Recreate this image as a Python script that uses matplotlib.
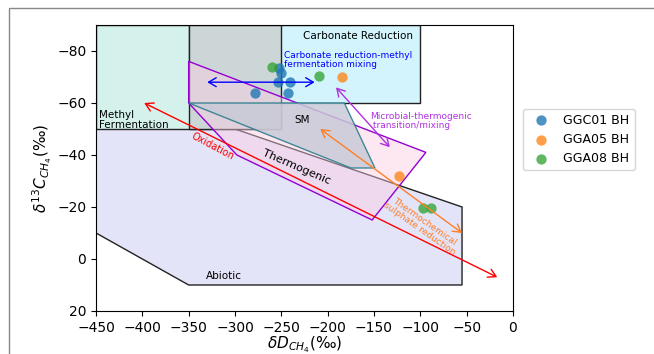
import matplotlib.pyplot as plt
import numpy as np
from matplotlib.patches import Polygon, Rectangle

# isotope data (dD vs d13C of methane)
ggc01_dD = [-278, -254, -241, -243, -252, -250]
ggc01_d13C = [-64, -68, -68, -64, -73.5, -71.5]
gga05_dD = [-184, -123]
gga05_d13C = [-70, -32]
gga08_dD = [-260, -209, -97, -89]
gga08_d13C = [-74, -70.5, -19.5, -19.5]

# genetic fields
abiotic = [(-450, -50), (-300, -50), (-55, -20), (-55, 10), (-350, 10), (-450, -10)]
methyl = [(-450, -90), (-250, -90), (-250, -50), (-450, -50)]
carbonate = [(-350, -90), (-100, -90), (-100, -60), (-350, -60)]
overlap = [(-350, -90), (-250, -90), (-250, -50), (-350, -50)]
thermo = [(-350, -76), (-350, -60), (-298, -40), (-152, -15), (-94, -41)]
sm = [(-350, -60), (-182, -60), (-149, -35), (-175, -35)]

fig = plt.figure(figsize=(6.54, 3.54), dpi=100)
ax = fig.add_axes([0.1468, 0.1215, 0.6376, 0.8079])

ax.add_patch(Polygon(abiotic, closed=True, fc='#e4e4f8', ec='#222222', lw=1, zorder=1))
ax.add_patch(Polygon(methyl, closed=True, fc='#d5f1ec', ec='#222222', lw=1, zorder=1.1))
ax.add_patch(Polygon(carbonate, closed=True, fc='#d3f4fc', ec='#222222', lw=1, zorder=1.2))
ax.add_patch(Polygon(overlap, closed=True, fc='#cdd6d6', ec='#222222', lw=1, zorder=1.3))
ax.add_patch(Polygon(thermo, closed=True, fc='#fbcde4', alpha=0.45, ec='none', zorder=1.4))
ax.add_patch(Polygon(thermo, closed=True, fill=False, ec='darkviolet', lw=1, zorder=1.5))
ax.add_patch(Polygon(sm, closed=True, fc='#c8cad7', alpha=0.85, ec='#22798a', lw=1, zorder=1.6))

ax.scatter(ggc01_dD, ggc01_d13C, s=55, color='#1f77b4', alpha=0.8, lw=0, label='GGC01 BH', zorder=3)
ax.scatter(gga05_dD, gga05_d13C, s=55, color='#ff7f0e', alpha=0.75, lw=0, label='GGA05 BH', zorder=3)
ax.scatter(gga08_dD, gga08_d13C, s=55, color='#2ca02c', alpha=0.75, lw=0, label='GGA08 BH', zorder=3)

def arrow(p0, p1, c):
    ax.annotate('', xy=p1, xytext=p0,
                arrowprops=dict(arrowstyle='<->,head_length=0.55,head_width=0.32',
                                color=c, lw=1, shrinkA=0, shrinkB=0), zorder=4)

arrow((-330, -68), (-214, -68), 'blue')
arrow((-191, -66), (-133, -43), '#b030e0')
arrow((-208, -50), (-55, -10), '#ff7f27')
arrow((-398, -60), (-17, 7), 'red')

ax.text(-167, -85.8, 'Carbonate Reduction', fontsize=7.5, ha='center', va='center', zorder=5)
ax.text(-447, -53.5, 'Methyl\nFermentation', fontsize=7.5, ha='left', va='center',
        linespacing=1.0, zorder=5)
ax.text(-228, -53.3, 'SM', fontsize=7.5, ha='center', va='center', zorder=5)
ax.text(-234, -35.5, 'Thermogenic', fontsize=8, ha='center', va='center',
        rotation=-23.5, rotation_mode='anchor', zorder=5)
ax.text(-324, -43.3, 'Oxidation', fontsize=7, color='red', ha='center', va='center',
        rotation=-28, rotation_mode='anchor', zorder=5)
ax.text(-312, 6.5, 'Abiotic', fontsize=7.5, ha='center', va='center', zorder=5)
ax.text(-247, -76.4, 'Carbonate reduction-methyl\nfermentation mixing', fontsize=6.5,
        color='blue', ha='left', va='center', linespacing=1.0, zorder=5)
ax.text(-154, -53.2, 'Microbial-thermogenic\n transition/mixing', fontsize=6.5,
        color='#b030e0', ha='left', va='center', linespacing=1.0, zorder=5)
ax.text(-98, -13, 'Thermochemical\nsulphate reduction', fontsize=6.5, color='#ff7f27',
        ha='center', va='center', multialignment='center', rotation=-35,
        rotation_mode='anchor', linespacing=1.0, zorder=5)

ax.set_xlim(-450, 0)
ax.set_ylim(20, -90)
ax.set_xticks(np.arange(-450, 1, 50))
ax.set_yticks(np.arange(-80, 21, 20))
ax.tick_params(labelsize=10)
ax.set_xlabel(r'$\delta D_{CH_4}$(‰)', fontsize=11, labelpad=0)
ax.set_ylabel(r'$\delta^{13}C_{CH_4}$(‰)', fontsize=11, labelpad=2)

ax.legend(loc='center left', bbox_to_anchor=(1.01, 0.6), fontsize=9)

fig.add_artist(Rectangle((9 / 654, -0.5), 2, 1 - 8 / 354 + 0.5, transform=fig.transFigure,
                         fill=False, ec='#888888', lw=1))

fig.savefig('out.png', dpi=100)
